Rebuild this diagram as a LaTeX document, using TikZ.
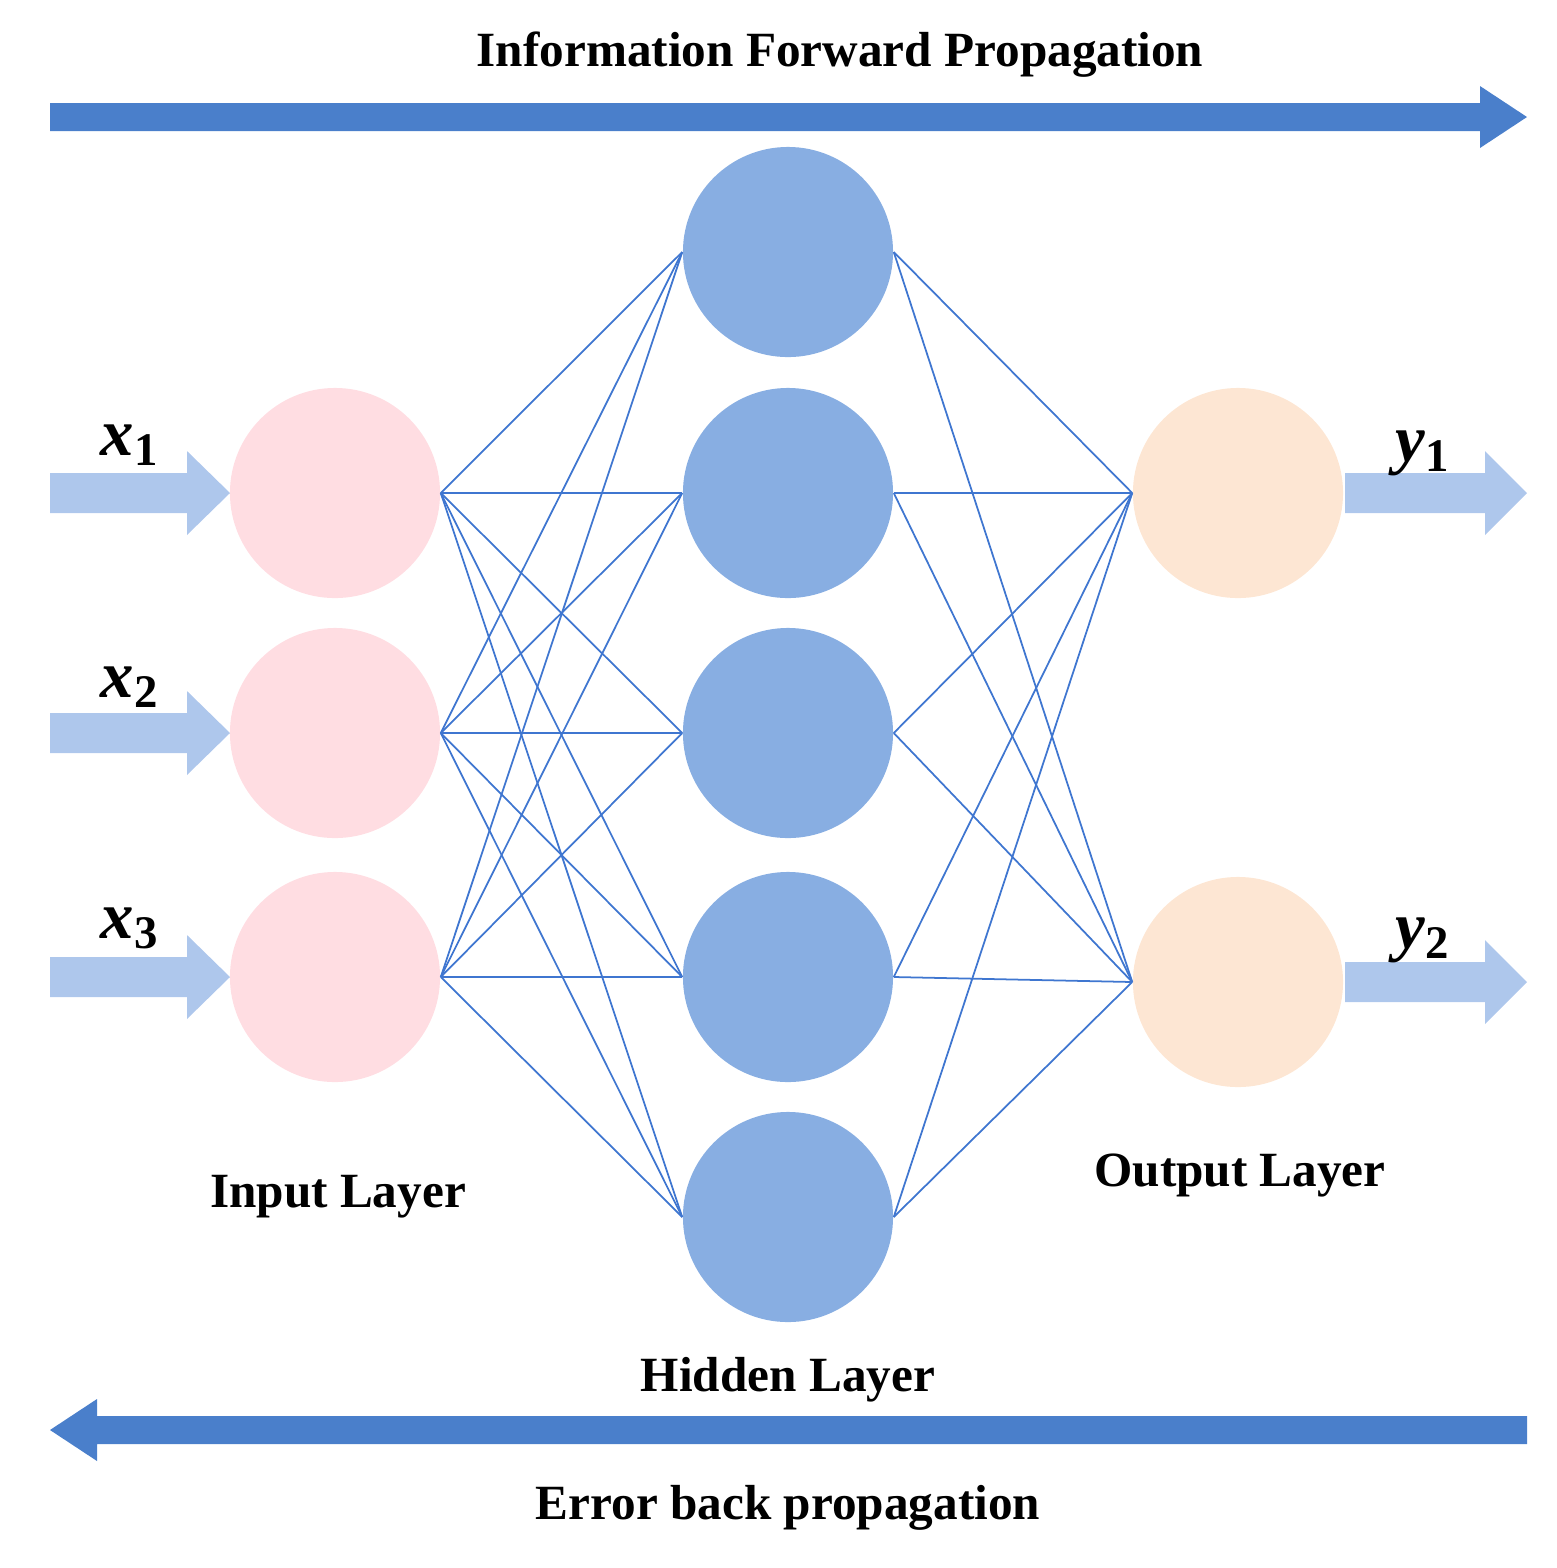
\documentclass[tikz,border=0pt]{standalone}
\usepackage{fontspec}
\setmainfont{Liberation Serif}
\usetikzlibrary{positioning}
\definecolor{inCol}{HTML}{FFDDE2}
\definecolor{hidCol}{HTML}{88AEE2}
\definecolor{outCol}{HTML}{FDE6D3}
\definecolor{wireCol}{HTML}{3F76D0}
\definecolor{bigArr}{HTML}{4A7FCB}
\definecolor{smallArr}{HTML}{AEC7EC}
\tikzstyle{neuron}=[circle, minimum size=2.1cm, inner sep=0pt]
\tikzstyle{wire}=[draw=wireCol, line width=0.5pt]
\tikzstyle{lbl}=[font=\fontsize{14}{16}\selectfont\bfseries]
\tikzstyle{var}=[font=\fontsize{19}{21}\selectfont\bfseries\itshape]

\begin{document}
\begin{tikzpicture}[x=0.01cm, y=-0.01cm]
      \useasboundingbox (0,0) rectangle (1557,1568);
      % layers
      \foreach \i/\y in {1/493, 2/733, 3/977}
        \node(in\i) at (335,\y) [neuron, fill=inCol] {};
      \foreach \i/\y in {1/252, 2/493, 3/733, 4/977, 5/1217}
        \node(h\i) at (788,\y) [neuron, fill=hidCol] {};
      \foreach \i/\y in {1/493, 2/982}
        \node(out\i) at (1238,\y) [neuron, fill=outCol] {};
      % connections
      \foreach \i in {1,2,3}
        \foreach \j in {1,...,5}
          \draw[wire] (in\i.east) -- (h\j.west);
      \foreach \j in {1,...,5}
        \foreach \k in {1,2}
          \draw[wire] (h\j.east) -- (out\k.west);
      % big arrows
      \fill[bigArr] (50,103) -- (1480,103) -- (1480,86) -- (1527,117)
        -- (1480,148) -- (1480,131) -- (50,131) -- cycle;
      \fill[bigArr] (1527,1416) -- (97,1416) -- (97,1399) -- (50,1430)
        -- (97,1461) -- (97,1444) -- (1527,1444) -- cycle;
      % input and output arrows
      \foreach \y in {493, 733, 977}
        \fill[smallArr] (50,\y-20) -- (187,\y-20) -- (187,\y-42) -- (230,\y)
          -- (187,\y+42) -- (187,\y+20) -- (50,\y+20) -- cycle;
      \foreach \y in {493, 982}
        \fill[smallArr] (1345,\y-20) -- (1485,\y-20) -- (1485,\y-42) -- (1527,\y)
          -- (1485,\y+42) -- (1485,\y+20) -- (1345,\y+20) -- cycle;
      % texts
      \node(tForward) at (840,55) [lbl] {Information Forward Propagation};
      \node(tBack) at (788,1508) [lbl] {Error back propagation};
      \node(tIn) at (338,1197) [lbl] {Input Layer};
      \node(tHid) at (788,1380) [lbl] {Hidden Layer};
      \node(tOut) at (1240,1175) [lbl] {Output Layer};
      \node(x1) at (130,445) [var] {x\textsubscript{\upshape 1}};
      \node(x2) at (130,687) [var] {x\textsubscript{\upshape 2}};
      \node(x3) at (130,928) [var] {x\textsubscript{\upshape 3}};
      \node(y1) at (1423,453) [var] {y\textsubscript{\upshape 1}};
      \node(y2) at (1423,940) [var] {y\textsubscript{\upshape 2}};
    \end{tikzpicture}
\end{document}
